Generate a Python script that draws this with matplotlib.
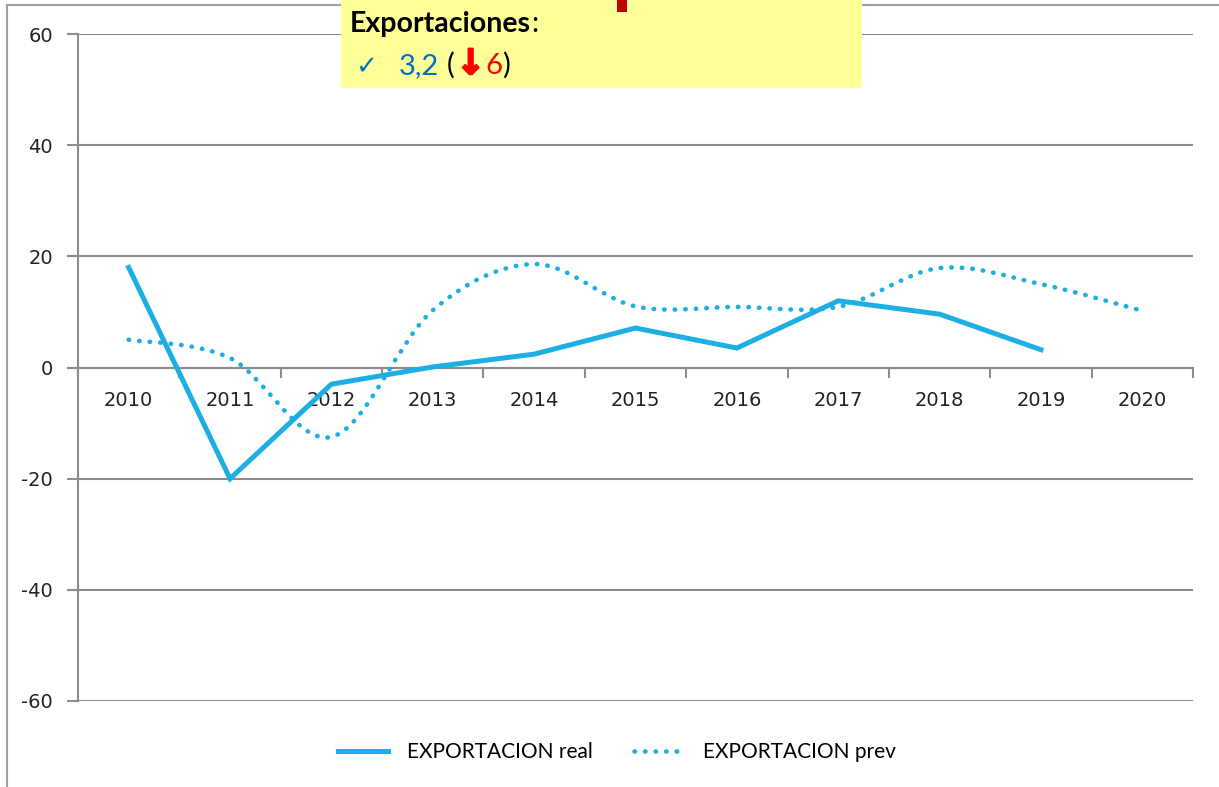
import matplotlib
matplotlib.use("Agg")
import matplotlib.pyplot as plt
from matplotlib.path import Path
from matplotlib.patches import PathPatch, Rectangle
from matplotlib.lines import Line2D
import matplotlib.patheffects as pe

plt.rcParams['axes.unicode_minus'] = False

years = ["2010", "2011", "2012", "2013", "2014", "2015", "2016", "2017", "2018", "2019", "2020"]
export_real = [18, -20, -3, 0.1, 2.4, 7.1, 3.5, 12, 9.6, 3.2]
export_prev = [5, 1.7, -12.5, 10.3, 18.6, 11, 10.9, 10.9, 17.9, 15, 10.2]
yticks = [-60, -40, -20, 0, 20, 40, 60]
label_real = "EXPORTACION real"
label_prev = "EXPORTACION prev"
box_title = "Exportaciones"
box_value = "3,2"
box_change = "6"

BLUE = "#1DAEE4"
GRID = "#8C8C8C"

W, H = 1219, 787
fig = plt.figure(figsize=(W / 100, H / 100), dpi=100)
ax = fig.add_axes([78 / W, 1 - 701 / H, (1193 - 78) / W, (701 - 34) / H])

x = list(range(len(years)))

# real line
ln_real, = ax.plot(x[:len(export_real)], export_real, color=BLUE, lw=3.6,
                   solid_joinstyle='miter', zorder=3)

# smoothed prev line (Catmull-Rom bezier through data points)
pts = list(zip(x, export_prev))
verts = [pts[0]]
codes = [Path.MOVETO]
n = len(pts)
for i in range(n - 1):
    p0 = pts[i - 1] if i > 0 else pts[i]
    p1 = pts[i]
    p2 = pts[i + 1]
    p3 = pts[i + 2] if i + 2 < n else pts[i + 1]
    c1 = (p1[0] + (p2[0] - p0[0]) / 6, p1[1] + (p2[1] - p0[1]) / 6)
    c2 = (p2[0] - (p3[0] - p1[0]) / 6, p2[1] - (p3[1] - p1[1]) / 6)
    verts += [c1, c2, p2]
    codes += [Path.CURVE4] * 3
dot_style = (0, (0.1, 2.2))
patch = PathPatch(Path(verts, codes), facecolor='none', edgecolor=BLUE, lw=3.3,
                  linestyle=dot_style, capstyle='round', zorder=3)
ax.add_patch(patch)

ax.set_xlim(-0.5, len(years) - 0.5)
ax.set_ylim(-60, 60)
ax.set_yticks(yticks)
ax.set_yticklabels([str(v) for v in yticks])
ax.yaxis.grid(True, color=GRID, lw=1.5)
ax.set_axisbelow(True)

ax.set_xticks(x)
ax.set_xticklabels(years)
ax.set_xticks([i - 0.5 for i in range(len(years) + 1)], minor=True)
ax.tick_params(axis='x', which='major', length=0, pad=17, labelsize=14, labelcolor='#222222')
ax.tick_params(axis='x', which='minor', length=7, width=1.5, color=GRID, direction='out')
ax.tick_params(axis='y', length=8, width=1.5, color=GRID, labelsize=14, pad=10, labelcolor='#222222')

for s in ['top', 'right']:
    ax.spines[s].set_visible(False)
ax.spines['bottom'].set_position(('data', 0))
ax.spines['bottom'].set_color(GRID)
ax.spines['bottom'].set_linewidth(1.5)
ax.spines['left'].set_color(GRID)
ax.spines['left'].set_linewidth(1.5)

for t in ax.get_xticklabels() + ax.get_yticklabels():
    t.set_family('DejaVu Sans')

# legend
prev_proxy = Line2D([], [], color=BLUE, lw=3.3, linestyle=dot_style, dash_capstyle='round')
fig.legend([ln_real, prev_proxy], [label_real, label_prev], loc='center',
           bbox_to_anchor=(0.506, 1 - 752 / H), ncol=2, frameon=False,
           prop={'family': 'Lato', 'size': 15}, handlelength=2.4,
           handletextpad=0.9, columnspacing=2.0)

# outer frame lines
fig.add_artist(Line2D([7 / W, 7 / W], [0, 1 - 5 / H], transform=fig.transFigure, color='#A0A0A0', lw=1.5))
fig.add_artist(Line2D([7 / W, 1], [1 - 5 / H, 1 - 5 / H], transform=fig.transFigure, color='#A0A0A0', lw=1.5))

# yellow annotation box
fig.add_artist(Rectangle((341 / W, 1 - 88 / H), (862 - 341) / W, 88 / H,
                         transform=fig.transFigure, facecolor='#FFFF99', edgecolor='none', zorder=5))
fig.add_artist(Rectangle((617 / W, 1 - 12 / H), 10 / W, 12 / H,
                         transform=fig.transFigure, facecolor='#C00000', edgecolor='none', zorder=6))

fam = ['Lato', 'DejaVu Sans']
renderer = fig.canvas.get_renderer()


def chain(x0, y, pieces):
    """Place text pieces one after another, starting at pixel x0, baseline y (pixels from top)."""
    xx = x0
    for s, kw, gap in pieces:
        t = fig.text(xx / W, 1 - y / H, s, va='baseline', ha='left', zorder=7, **kw)
        bb = t.get_window_extent(renderer)
        xx = xx + bb.width + gap
    return xx


chain(350, 32, [
    (box_title, dict(fontsize=20.5, fontweight='bold', family=fam), 0),
    (":", dict(fontsize=20.5, family=fam), 0),
])
chain(355, 74, [
    ("\u2713", dict(fontsize=19, color='#0070C0', family=['DejaVu Sans']), 22),
    (box_value, dict(fontsize=21, color='#0070C0', family=fam), 7),
    ("(", dict(fontsize=21, color='black', family=fam), 2),
    ("\u2193", dict(fontsize=25, color='#FF0000', fontweight='bold', family=['DejaVu Sans'],
                    path_effects=[pe.withStroke(linewidth=1.6, foreground='#FF0000')]), 0),
    (box_change, dict(fontsize=21, color='#FF0000', family=fam), 0),
    (")", dict(fontsize=21, color='black', family=fam), 0),
])

fig.savefig("out.png", dpi=100)
